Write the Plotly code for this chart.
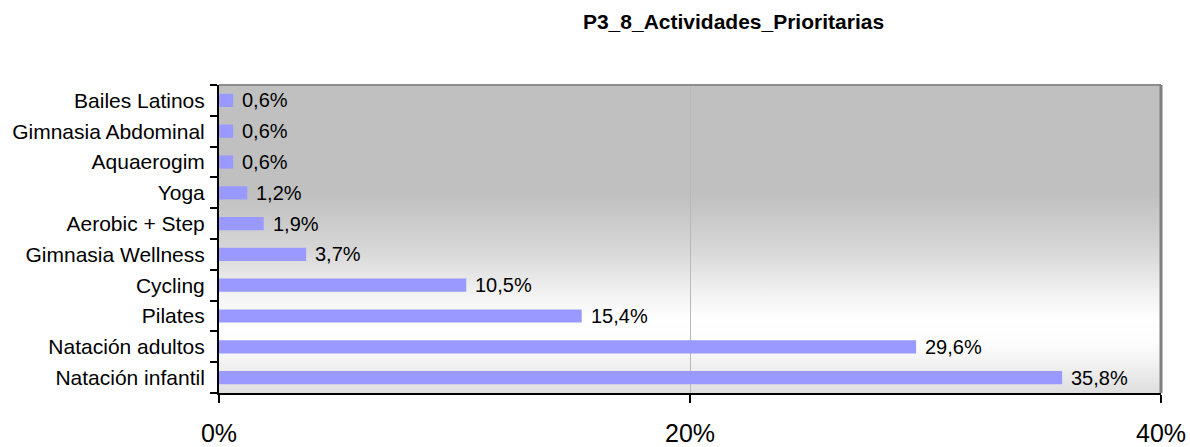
import base64
import plotly.graph_objects as go

# Activities ordered bottom to top as drawn on the category axis
categories = [
    "Natación infantil",
    "Natación adultos",
    "Pilates",
    "Cycling",
    "Gimnasia Wellness",
    "Aerobic + Step",
    "Yoga",
    "Aquaerogim",
    "Gimnasia Abdominal",
    "Bailes Latinos",
]
values = [35.8, 29.6, 15.4, 10.5, 3.7, 1.9, 1.2, 0.6, 0.6, 0.6]  # percent
x_tick_values = [0, 20, 40]
x_tick_labels = ["0%", "20%", "40%"]
chart_title = "P3_8_Actividades_Prioritarias"

FONT = "Liberation Sans, Arial, sans-serif"
W, H = 1190, 447
L, R, T, B = 219, 29, 85, 54

fig = go.Figure()
fig.add_trace(go.Bar(
    x=values,
    y=categories,
    orientation="h",
    marker=dict(color="#9999ff", line=dict(width=0)),
    hoverinfo="skip",
))

# Value labels placed just past the end of each bar
for cat, v in zip(categories, values):
    fig.add_annotation(
        x=v, y=cat, xref="x", yref="y",
        text=f"{v:.1f}".replace(".", ",") + "%",
        showarrow=False, xanchor="left", yanchor="middle",
        xshift=7, font=dict(family=FONT, size=20, color="#000000"),
    )

# Vertical grey-to-white-to-grey fill of the plotting area, as an SVG gradient
stops = [
    (0.000, 192), (0.357, 192), (0.536, 215), (0.666, 240),
    (0.763, 255), (0.844, 252), (0.909, 241), (1.000, 222),
]
stop_tags = "".join(
    f'<stop offset="{t:.3f}" stop-color="rgb({c},{c},{c})"/>' for t, c in stops
)
svg = (
    '<svg xmlns="http://www.w3.org/2000/svg" width="100" height="100" '
    'preserveAspectRatio="none" viewBox="0 0 100 100">'
    f'<defs><linearGradient id="g" x1="0" y1="0" x2="0" y2="1">{stop_tags}'
    '</linearGradient></defs><rect x="0" y="0" width="100" height="100" fill="url(#g)"/></svg>'
)
bg_uri = "data:image/svg+xml;base64," + base64.b64encode(svg.encode()).decode()

# Grey frame on the top and right sides of the plotting area
shapes = [
    dict(type="line", xref="paper", yref="paper", x0=0, x1=1, y0=1, y1=1,
         line=dict(color="#8c8c8c", width=2), layer="above"),
    dict(type="line", xref="paper", yref="paper", x0=1, x1=1, y0=0, y1=1,
         line=dict(color="#7f7f7f", width=3), layer="above"),
]

fig.update_layout(
    width=W, height=H,
    margin=dict(l=L, r=R, t=T, b=B, pad=0, autoexpand=False),
    paper_bgcolor="#ffffff",
    plot_bgcolor="#ffffff",
    showlegend=False,
    bargap=0.57,
    shapes=shapes,
    images=[dict(
        source=bg_uri, xref="paper", yref="paper",
        x=0, y=1, sizex=1, sizey=1, xanchor="left", yanchor="top",
        sizing="stretch", layer="below",
    )],
    font=dict(family=FONT, color="#000000"),
    title=dict(
        text=f"<b>{chart_title}</b>",
        x=733.5 / W, xanchor="center", xref="container",
        y=1 - 22 / H, yanchor="middle", yref="container",
        font=dict(family=FONT, size=21, color="#000000"),
    ),
    xaxis=dict(
        range=[0, 40],
        tickvals=x_tick_values,
        ticktext=x_tick_labels,
        ticks="outside", ticklen=8, tickwidth=2, tickcolor="#000000",
        showline=True, linecolor="#000000", linewidth=2,
        showgrid=True, gridcolor="#b8b8b8", gridwidth=1,
        zeroline=False,
        tickfont=dict(family=FONT, size=25, color="#000000"),
        ticklabelstandoff=9,
        automargin=False,
        fixedrange=True,
    ),
    yaxis=dict(
        categoryorder="array", categoryarray=categories,
        tickson="boundaries",
        ticks="outside", ticklen=7, tickwidth=2, tickcolor="#000000",
        showline=True, linecolor="#000000", linewidth=2,
        showgrid=False, zeroline=False,
        tickfont=dict(family=FONT, size=21, color="#000000"),
        ticklabelstandoff=8,
        automargin=False,
        fixedrange=True,
    ),
)

fig.write_html("out.html")
